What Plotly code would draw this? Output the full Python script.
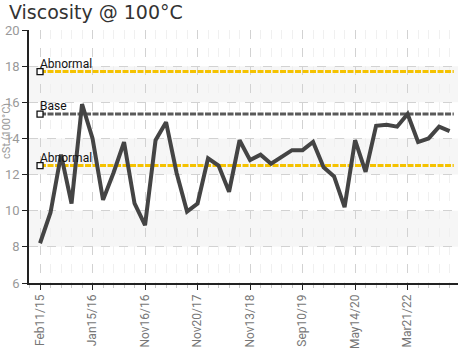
import plotly.graph_objects as go

# Kinematic viscosity readings at 100 °C (cSt), one per sample, oldest first
viscosity = [8.2, 9.9, 13.1, 10.4, 15.9, 14.0, 10.6, 12.1, 13.8, 10.4,
             9.2, 13.9, 14.9, 12.1, 9.95, 10.4, 12.9, 12.5, 11.05, 13.9,
             12.8, 13.1, 12.6, 13.0, 13.35, 13.35, 13.8, 12.4, 11.9, 10.2,
             13.9, 12.15, 14.7, 14.75, 14.65, 15.35, 13.8, 14.0, 14.65, 14.4]
sample_index = list(range(len(viscosity)))

# Sample dates shown on the axis (every fifth sample)
tick_positions = [0, 5, 10, 15, 20, 25, 30, 35]
tick_labels = ["Feb11/15", "Jan15/16", "Nov16/16", "Nov20/17",
               "Nov13/18", "Sep10/19", "May14/20", "Mar21/22"]

# Reference limits
limit_names = ["Abnormal", "Base", "Abnormal"]
limit_values = [17.7, 15.35, 12.5]
limit_colors = ["#f5c200", "#5a5a5a", "#f5c200"]

y_ticks = [6, 8, 10, 12, 14, 16, 18, 20]

NARROW = "Roboto, sans-serif"

fig = go.Figure()

# Alternating light bands behind the data
for lo in [8, 12, 16]:
    fig.add_shape(type="rect", xref="paper", yref="y", x0=0, x1=1, y0=lo, y1=lo + 2,
                  fillcolor="#f6f6f6", line_width=0, layer="below")

x_end = sample_index[-1] + 0.4
for name, val, col in zip(limit_names, limit_values, limit_colors):
    fig.add_trace(go.Scatter(
        x=[sample_index[0], x_end], y=[val, val], mode="lines",
        line=dict(color=col, width=3, dash="6px,1.5px"),
        hoverinfo="skip", showlegend=False))
    fig.add_trace(go.Scatter(
        x=[sample_index[0]], y=[val], mode="markers",
        marker=dict(symbol="square", size=6, color="white",
                    line=dict(color="#111", width=1.3)),
        showlegend=False))
    fig.add_annotation(x=sample_index[0], y=val, xref="x", yref="y",
                       text=name, showarrow=False, xanchor="left",
                       yanchor="bottom", xshift=-2, yshift=-1,
                       font=dict(family=NARROW, size=12, color="#111"))

fig.add_trace(go.Scatter(
    x=sample_index, y=viscosity, mode="lines",
    line=dict(color="#444444", width=4),
    showlegend=False))

fig.add_annotation(text="Viscosity @ 100°C", xref="paper", yref="paper",
                   x=-0.049, y=1.117, xanchor="left", yanchor="top",
                   showarrow=False, borderpad=0,
                   font=dict(family="DejaVu Sans", size=19, color="#333"))
fig.add_annotation(text="cSt (100°C)", xref="paper", yref="paper",
                   x=-0.052, y=0.6, xanchor="center", yanchor="middle",
                   textangle=-90, showarrow=False,
                   font=dict(family=NARROW, size=11, color="#999"))

fig.update_layout(
    width=458, height=350,
    margin=dict(l=29, r=0, t=30, b=67),
    paper_bgcolor="white", plot_bgcolor="white",
    xaxis=dict(
        range=[-1.05, 39.8], tickmode="array",
        tickvals=tick_positions, ticktext=tick_labels, tickangle=-90,
        tickfont=dict(family=NARROW, size=12, color="#777"),
        showline=True, linecolor="#222", linewidth=1.5,
        ticks="outside", ticklen=5, tickcolor="#222",
        showgrid=True, gridcolor="#d2d2d2", griddash="dash", gridwidth=1,
        zeroline=False,
        minor=dict(tick0=0, dtick=1, ticks="outside", ticklen=3,
                   tickcolor="#c8c8c8", showgrid=True, gridcolor="#f0f0f0",
                   griddash="dash"),
    ),
    yaxis=dict(
        range=[6, 20], tickmode="array", tickvals=y_ticks,
        tickfont=dict(family=NARROW, size=13, color="#999"),
        showline=True, linecolor="#222", linewidth=1.5,
        ticks="outside", ticklen=5, tickcolor="#222",
        showgrid=True, gridcolor="#d2d2d2", griddash="dash",
        zeroline=False,
    ),
)

fig.write_html("out.html")
